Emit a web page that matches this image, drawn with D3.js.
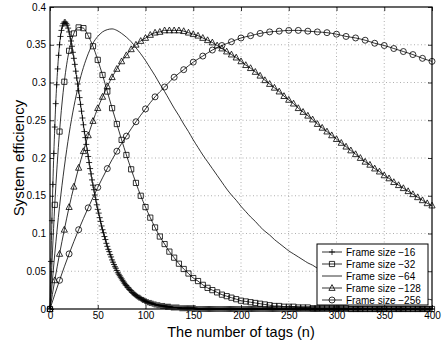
<!DOCTYPE html>
<html>
<head>
<meta charset="utf-8">
<script src="https://cdn.jsdelivr.net/npm/d3@7"></script>
<style>
  html, body { margin: 0; padding: 0; background: #fff; }
  svg { display: block; font-family: "Liberation Sans", Arial, sans-serif; }
</style>
</head>
<body>
<div id="chart-container"></div>
<script>
// number of tags (x) for each series
const tags16 = d3.range(0, 401, 1);
const tags32 = d3.range(0, 401, 5);
const tags64 = d3.range(0, 401, 5);
const tags128 = d3.range(0, 401, 5);
const tags256 = d3.range(0, 401, 10);

// system efficiency
const values16 = [
  0, 0.063, 0.117, 0.165, 0.206, 0.241, 0.272, 0.297, 0.318, 0.336,
  0.350, 0.361, 0.369, 0.375, 0.378, 0.380, 0.380, 0.378, 0.376, 0.372,
  0.367, 0.361, 0.355, 0.348, 0.340, 0.332, 0.324, 0.315, 0.306, 0.298,
  0.289, 0.280, 0.271, 0.262, 0.253, 0.244, 0.235, 0.227, 0.218, 0.210,
  0.202, 0.194, 0.186, 0.179, 0.171, 0.164, 0.158, 0.151, 0.145, 0.138,
  0.132, 0.127, 0.121, 0.116, 0.110, 0.105, 0.101, 0.096, 0.092, 0.087,
  0.083, 0.079, 0.076, 0.072, 0.069, 0.065, 0.062, 0.059, 0.056, 0.054,
  0.051, 0.048, 0.046, 0.044, 0.042, 0.040, 0.038, 0.036, 0.034, 0.032,
  0.031, 0.029, 0.028, 0.026, 0.025, 0.024, 0.022, 0.021, 0.020, 0.019,
  0.018, 0.017, 0.016, 0.015, 0.015, 0.014, 0.013, 0.012, 0.012, 0.011,
  0.010, 0.010, 0.009, 0.009, 0.008, 0.008, 0.008, 0.007, 0.007, 0.006,
  0.006, 0.006, 0.005, 0.005, 0.005, 0.005, 0.004, 0.004, 0.004, 0.004,
  0.004, 0.003, 0.003, 0.003, 0.003, 0.003, 0.003, 0.002, 0.002, 0.002,
  0.002, 0.002, 0.002, 0.002, 0.002, 0.002, 0.001, 0.001, 0.001, 0.001,
  0.001, 0.001, 0.001, 0.001, 0.001, 0.001, 0.001, 0.001, 0.001, 0.001,
  0.001, 0.001, 0.001, 0, 0, 0, 0, 0, 0, 0,
  0, 0, 0, 0, 0, 0, 0, 0, 0, 0,
  0, 0, 0, 0, 0, 0, 0, 0, 0, 0,
  0, 0, 0, 0, 0, 0, 0, 0, 0, 0,
  0, 0, 0, 0, 0, 0, 0, 0, 0, 0,
  0, 0, 0, 0, 0, 0, 0, 0, 0, 0,
  0, 0, 0, 0, 0, 0, 0, 0, 0, 0,
  0, 0, 0, 0, 0, 0, 0, 0, 0, 0,
  0, 0, 0, 0, 0, 0, 0, 0, 0, 0,
  0, 0, 0, 0, 0, 0, 0, 0, 0, 0,
  0, 0, 0, 0, 0, 0, 0, 0, 0, 0,
  0, 0, 0, 0, 0, 0, 0, 0, 0, 0,
  0, 0, 0, 0, 0, 0, 0, 0, 0, 0,
  0, 0, 0, 0, 0, 0, 0, 0, 0, 0,
  0, 0, 0, 0, 0, 0, 0, 0, 0, 0,
  0, 0, 0, 0, 0, 0, 0, 0, 0, 0,
  0, 0, 0, 0, 0, 0, 0, 0, 0, 0,
  0, 0, 0, 0, 0, 0, 0, 0, 0, 0,
  0, 0, 0, 0, 0, 0, 0, 0, 0, 0,
  0, 0, 0, 0, 0, 0, 0, 0, 0, 0,
  0, 0, 0, 0, 0, 0, 0, 0, 0, 0,
  0, 0, 0, 0, 0, 0, 0, 0, 0, 0,
  0, 0, 0, 0, 0, 0, 0, 0, 0, 0,
  0, 0, 0, 0, 0, 0, 0, 0, 0, 0,
  0, 0, 0, 0, 0, 0, 0, 0, 0, 0,
  0
];
const values32 = [
  0, 0.138, 0.235, 0.301, 0.342, 0.365, 0.373, 0.372, 0.362, 0.348,
  0.330, 0.310, 0.288, 0.266, 0.245, 0.224, 0.204, 0.185, 0.167, 0.150,
  0.135, 0.121, 0.108, 0.096, 0.086, 0.076, 0.068, 0.060, 0.053, 0.047,
  0.041, 0.037, 0.032, 0.028, 0.025, 0.022, 0.019, 0.017, 0.015, 0.013,
  0.011, 0.010, 0.009, 0.008, 0.007, 0.006, 0.005, 0.004, 0.004, 0.003,
  0.003, 0.003, 0.002, 0.002, 0.002, 0.001, 0.001, 0.001, 0.001, 0.001,
  0.001, 0.001, 0.001, 0, 0, 0, 0, 0, 0, 0,
  0, 0, 0, 0, 0, 0, 0, 0, 0, 0,
  0
];
const values64 = [
  0, 0.073, 0.136, 0.188, 0.232, 0.268, 0.297, 0.320, 0.338, 0.352,
  0.361, 0.367, 0.370, 0.371, 0.369, 0.365, 0.360, 0.354, 0.346, 0.338,
  0.329, 0.319, 0.309, 0.298, 0.288, 0.277, 0.266, 0.256, 0.245, 0.235,
  0.224, 0.214, 0.204, 0.195, 0.186, 0.177, 0.168, 0.159, 0.151, 0.144,
  0.136, 0.129, 0.122, 0.116, 0.109, 0.103, 0.098, 0.092, 0.087, 0.082,
  0.077, 0.073, 0.069, 0.065, 0.061, 0.058, 0.054, 0.051, 0.048, 0.045,
  0.042, 0.040, 0.037, 0.035, 0.033, 0.031, 0.029, 0.027, 0.026, 0.024,
  0.022, 0.021, 0.020, 0.019, 0.017, 0.016, 0.015, 0.014, 0.013, 0.013,
  0.012
];
const values128 = [
  0, 0.038, 0.073, 0.105, 0.135, 0.162, 0.187, 0.209, 0.230, 0.249,
  0.266, 0.281, 0.295, 0.307, 0.318, 0.328, 0.336, 0.344, 0.350, 0.355,
  0.359, 0.363, 0.366, 0.367, 0.369, 0.369, 0.369, 0.369, 0.368, 0.366,
  0.364, 0.362, 0.359, 0.356, 0.353, 0.349, 0.345, 0.341, 0.337, 0.333,
  0.328, 0.323, 0.319, 0.314, 0.309, 0.303, 0.298, 0.293, 0.288, 0.282,
  0.277, 0.272, 0.266, 0.261, 0.256, 0.251, 0.245, 0.240, 0.235, 0.230,
  0.225, 0.220, 0.215, 0.210, 0.205, 0.200, 0.195, 0.191, 0.186, 0.182,
  0.177, 0.173, 0.168, 0.164, 0.160, 0.156, 0.152, 0.148, 0.144, 0.140,
  0.137
];
const values256 = [
  0, 0.038, 0.073, 0.105, 0.134, 0.161, 0.186, 0.209, 0.229, 0.248,
  0.265, 0.281, 0.294, 0.307, 0.317, 0.327, 0.335, 0.343, 0.349, 0.354,
  0.359, 0.362, 0.365, 0.367, 0.368, 0.369, 0.369, 0.368, 0.367, 0.366,
  0.364, 0.361, 0.359, 0.356, 0.352, 0.349, 0.345, 0.341, 0.337, 0.332,
  0.328
];

const seriesNames = ["Frame size \u221216", "Frame size \u221232", "Frame size \u221264",
  "Frame size \u2212128", "Frame size \u2212256"];
const xTickValues = [0, 50, 100, 150, 200, 250, 300, 350, 400];
const xTickLabels = ["0", "50", "100", "150", "200", "250", "300", "350", "400"];
const yTickValues = [0, 0.05, 0.1, 0.15, 0.2, 0.25, 0.3, 0.35, 0.4];
const yTickLabels = ["0", "0.05", "0.1", "0.15", "0.2", "0.25", "0.3", "0.35", "0.4"];

const width = 446, height = 343;
const margin = { top: 7, right: 14, bottom: 34, left: 50 };

const svg = d3.select("#chart-container").append("svg")
  .attr("width", width)
  .attr("height", height);

const x = d3.scaleLinear().domain([0, 400]).range([margin.left, width - margin.right]);
const y = d3.scaleLinear().domain([0, 0.4]).range([height - margin.bottom, margin.top]);

// dotted grid
const grid = svg.append("g").attr("stroke", "#9a9a9a").attr("stroke-width", 0.8)
  .attr("stroke-dasharray", "1,2.5");
xTickValues.slice(1, -1).forEach(v => {
  grid.append("line").attr("x1", x(v)).attr("x2", x(v))
    .attr("y1", y(0)).attr("y2", y(0.4));
});
yTickValues.slice(1, -1).forEach(v => {
  grid.append("line").attr("x1", x(0)).attr("x2", x(400))
    .attr("y1", y(v)).attr("y2", y(v));
});

// axes, ticks inside like matlab
const xAxis = svg.append("g").attr("transform", `translate(0,${y(0)})`)
  .call(d3.axisBottom(x).tickValues(xTickValues).tickSize(-4).tickPadding(3)
    .tickFormat((d, i) => xTickLabels[i]));
const xAxisTop = svg.append("g").attr("transform", `translate(0,${y(0.4)})`)
  .call(d3.axisTop(x).tickValues(xTickValues).tickSize(-4).tickFormat(""));
const yAxis = svg.append("g").attr("transform", `translate(${x(0)},0)`)
  .call(d3.axisLeft(y).tickValues(yTickValues).tickSize(-4).tickPadding(4)
    .tickFormat((d, i) => yTickLabels[i]));
const yAxisRight = svg.append("g").attr("transform", `translate(${x(400)},0)`)
  .call(d3.axisRight(y).tickValues(yTickValues).tickSize(-4).tickFormat(""));

[xAxis, xAxisTop, yAxis, yAxisRight].forEach(a => {
  a.select(".domain").remove();
  a.selectAll(".tick line").attr("stroke", "#000").attr("stroke-width", 0.8);
  a.selectAll("text").attr("fill", "#000").style("font-size", "10px")
    .style("font-family", "'Liberation Sans', Arial, sans-serif");
});

svg.append("rect")
  .attr("x", x(0)).attr("y", y(0.4))
  .attr("width", x(400) - x(0)).attr("height", y(0) - y(0.4))
  .attr("fill", "none").attr("stroke", "#000").attr("stroke-width", 1.2);

// markers
const markerPaths = {
  plus: "M-3,0H3M0,-3V3",
  square: "M-2.6,-2.6H2.6V2.6H-2.6Z",
  none: null,
  triangle: "M0,-3.4L3.1,2.4H-3.1Z",
  circle: "M3,0A3,3 0 1,1 -3,0A3,3 0 1,1 3,0Z"
};

const series = [
  { name: seriesNames[0], tags: tags16, values: values16, marker: "plus" },
  { name: seriesNames[1], tags: tags32, values: values32, marker: "square" },
  { name: seriesNames[2], tags: tags64, values: values64, marker: "none" },
  { name: seriesNames[3], tags: tags128, values: values128, marker: "triangle" },
  { name: seriesNames[4], tags: tags256, values: values256, marker: "circle" }
];

const line = d3.line()
  .x(d => x(d[0]))
  .y(d => y(d[1]))
  .curve(d3.curveMonotoneX);

const plot = svg.append("g");
series.forEach(s => {
  const pts = s.values.map((v, i) => [s.tags[i], v]);
  plot.append("path")
    .datum(pts)
    .attr("fill", "none")
    .attr("stroke", "#000")
    .attr("stroke-width", 0.8)
    .attr("d", line);
  if (markerPaths[s.marker]) {
    plot.append("g").selectAll("path")
      .data(pts)
      .join("path")
      .attr("transform", d => `translate(${x(d[0])},${y(d[1])})`)
      .attr("d", markerPaths[s.marker])
      .attr("fill", "none")
      .attr("stroke", "#000")
      .attr("stroke-width", 0.8);
  }
});

// legend
const legend = svg.append("g").attr("transform", "translate(317,244)");
legend.append("rect")
  .attr("width", 111).attr("height", 61)
  .attr("fill", "#fff").attr("stroke", "#000").attr("stroke-width", 1);
series.forEach((s, i) => {
  const ly = 8 + i * 12;
  const row = legend.append("g").attr("transform", `translate(0,${ly})`);
  row.append("line").attr("x1", 5).attr("x2", 25).attr("y1", 0).attr("y2", 0)
    .attr("stroke", "#000").attr("stroke-width", 0.8);
  if (markerPaths[s.marker]) {
    row.append("path").attr("transform", "translate(15,0)")
      .attr("d", markerPaths[s.marker])
      .attr("fill", "none").attr("stroke", "#000").attr("stroke-width", 0.8);
  }
  row.append("text").attr("x", 29).attr("y", 0).attr("dy", "0.35em")
    .style("font-size", "10px").text(s.name);
});

// axis titles
svg.append("text")
  .attr("x", (x(0) + x(400)) / 2).attr("y", 337)
  .attr("text-anchor", "middle")
  .style("font-size", "14.5px")
  .text("The number of tags (n)");

svg.append("text")
  .attr("transform", `translate(24,${(y(0) + y(0.4)) / 2}) rotate(-90)`)
  .attr("text-anchor", "middle")
  .style("font-size", "15px")
  .text("System efficiency");
</script>
</body>
</html>
